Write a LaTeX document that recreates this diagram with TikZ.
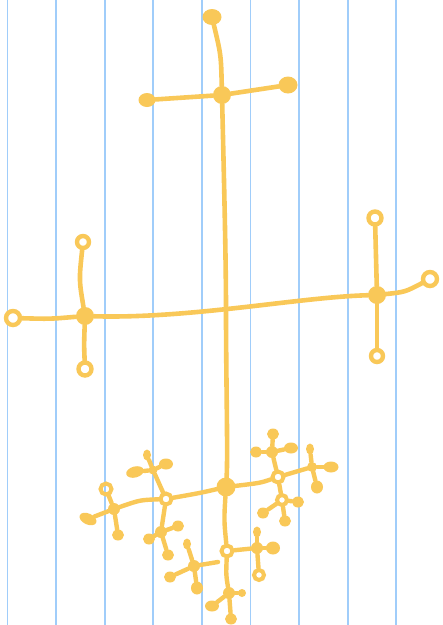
\documentclass[tikz,border=0pt]{standalone}
\usetikzlibrary{shapes.geometric}
\definecolor{ye}{RGB}{249,200,88}
\definecolor{gridblue}{RGB}{160,205,250}
\tikzset{
  br/.style={draw=ye, line width=4.6pt, line cap=round},
  sbr/.style={draw=ye, line width=4.4pt, line cap=round},
  hub/.style={circle, fill=ye, inner sep=0pt, minimum size=18pt},
  sm/.style={circle, fill=ye, inner sep=0pt, minimum size=12pt},
  tip/.style={ellipse, fill=ye, inner sep=0pt, minimum width=17pt, minimum height=14pt},
  stip/.style={ellipse, fill=ye, inner sep=0pt, minimum width=12pt, minimum height=11pt},
  ring/.style={circle, draw=ye, line width=4.4pt, inner sep=0pt, minimum size=12pt},
  sring/.style={circle, draw=ye, line width=4pt, inner sep=0pt, minimum size=11pt},
  gl/.style={draw=gridblue, line width=1.8pt}
}
\begin{document}
\begin{tikzpicture}[x=1pt,y=-1pt]
\useasboundingbox (0,0) rectangle (443,625);
\fill[white] (0,0) rectangle (443,625);
% grid lines
\foreach \gx in {7.5,56.1,104.7,153.3,201.9,250.5,299.1,347.7,396.3}
  \draw[gl] (\gx,0) -- (\gx,625);

% ---- top cross ----
\node[hub] (T) at (222,95) {};
\node[tip, minimum width=19pt, minimum height=16pt] (Tu) at (212,17) {};
\node[tip] (Tl) at (147,100) {};
\node[tip, minimum width=19pt, minimum height=17pt] (Tr) at (288,85) {};
\draw[br] (T) .. controls (221,55) .. (Tu);
\draw[br] (T) -- (Tl);
\draw[br] (T) -- (Tr);

% ---- trunk ----
\coordinate (X) at (226,310);
\node[hub, minimum size=19pt] (C) at (226,487) {};
\draw[br] (T) .. controls (224,180) and (226,260) .. (X);
\draw[br] (X) .. controls (226,380) and (228,455) .. (C);

% ---- middle branch ----
\node[hub] (L) at (85,316) {};
\node[hub] (R) at (377,295) {};
\node[ring, minimum size=14pt] (Le) at (13,318) {};
\node[ring] (Lu) at (83,242) {};
\node[ring, minimum size=13pt] (Ld) at (85,369) {};
\node[ring, minimum size=13pt] (Ru) at (375,218) {};
\node[ring] (Rd) at (377,356) {};
\node[ring, minimum size=14pt] (Re) at (430,279) {};
\draw[br] (Le) .. controls (50,319) .. (L);
\draw[br] (L) .. controls (190,319) and (300,297) .. (R);
\draw[br] (R) .. controls (405,292) .. (Re);
\draw[br] (L) .. controls (79,280) .. (Lu);
\draw[br] (L) .. controls (84,345) .. (Ld);
\draw[br] (R) -- (Ru);
\draw[br] (R) -- (Rd);

% ---- bottom cluster: left part ----
\node[sring] (A) at (166,499) {};
\node[sm] (B) at (114,509) {};
\node[sring] (Bu) at (106,489) {};
\node[stip] (Bd) at (118,535) {};
\node[tip, rotate=-25, minimum width=18pt, minimum height=11pt] (Bl) at (88,519) {};
\draw[sbr] (C) .. controls (200,493) .. (A);
\draw[sbr] (A) .. controls (140,500) .. (B);
\draw[sbr] (B) -- (Bu);
\draw[sbr] (B) -- (Bd);
\draw[sbr] (B) -- (Bl);

\node[sm, minimum size=9pt] (E) at (153,470) {};
\node[stip, minimum width=8pt] (Eu) at (147,455) {};
\node[tip, rotate=15, minimum width=18pt, minimum height=11pt] (El) at (135,472) {};
\node[stip, minimum width=14pt] (Er) at (166,464) {};
\draw[sbr] (A) -- (E);
\draw[sbr] (E) -- (Eu);
\draw[sbr] (E) -- (El);
\draw[sbr] (E) -- (Er);

\node[sm] (D) at (161,532) {};
\node[stip] (Dl) at (149,539) {};
\node[stip] (Dr) at (178,526) {};
\node[stip] (Dd) at (168,555) {};
\draw[sbr] (A) -- (D);
\draw[sbr] (D) -- (Dl);
\draw[sbr] (D) -- (Dr);
\draw[sbr] (D) -- (Dd);

% ---- bottom cluster: lower part ----
\node[sring] (F) at (227,551) {};
\draw[sbr] (C) .. controls (224,520) .. (F);

\node[sm] (G) at (257,548) {};
\node[stip, minimum width=8pt] (Gu) at (257,532) {};
\node[sring, minimum size=10pt] (Gd) at (259,575) {};
\node[stip, minimum width=14pt, minimum height=13pt] (Gr) at (273,548) {};
\draw[sbr] (F) -- (G);
\draw[sbr] (G) -- (Gu);
\draw[sbr] (G) -- (Gd);
\draw[sbr] (G) -- (Gr);

\node[sm] (H) at (229,593) {};
\node[stip, minimum width=14pt] (Hl) at (212,606) {};
\node[stip, minimum width=8pt, minimum height=8pt] (Hr) at (242,593) {};
\node[stip] (Hd) at (231,619) {};
\draw[sbr] (F) .. controls (226,575) .. (H);
\draw[sbr] (H) -- (Hl);
\draw[sbr] (H) -- (Hr);
\draw[sbr] (H) -- (Hd);

\node[sm] (I) at (194,566) {};
\node[stip, minimum width=8pt] (Iu) at (187,544) {};
\node[stip] (Il) at (170,577) {};
\coordinate (Ir) at (218,562);
\node[stip, minimum height=13pt] (Id) at (197,588) {};
\draw[sbr] (I) -- (Iu);
\draw[sbr] (I) -- (Il);
\draw[sbr] (I) -- (Ir);
\draw[sbr] (I) -- (Id);

% ---- bottom cluster: right part ----
\node[sring] (J) at (278,477) {};
\draw[sbr] (C) .. controls (260,483) .. (J);

\node[sm] (K) at (272,452) {};
\node[stip] (Ku) at (273,434) {};
\node[stip] (Kl) at (256,452) {};
\node[stip, minimum width=14pt] (Kr) at (291,448) {};
\draw[sbr] (J) -- (K);
\draw[sbr] (K) -- (Ku);
\draw[sbr] (K) -- (Kl);
\draw[sbr] (K) -- (Kr);

\node[sm, minimum size=10pt] (M) at (312,467) {};
\node[stip, minimum width=8pt] (Mu) at (310,449) {};
\node[stip, minimum width=15pt] (Mr) at (331,467) {};
\node[stip, minimum height=13pt] (Md) at (317,487) {};
\draw[sbr] (J) -- (M);
\draw[sbr] (M) -- (Mu);
\draw[sbr] (M) -- (Mr);
\draw[sbr] (M) -- (Md);

\node[sring, minimum size=10pt] (N) at (282,500) {};
\node[stip] (Nl) at (263,513) {};
\node[stip] (Nr) at (298,502) {};
\node[stip] (Nd) at (285,521) {};
\draw[sbr] (J) -- (N);
\draw[sbr] (N) -- (Nl);
\draw[sbr] (N) -- (Nr);
\draw[sbr] (N) -- (Nd);
\end{tikzpicture}
\end{document}
